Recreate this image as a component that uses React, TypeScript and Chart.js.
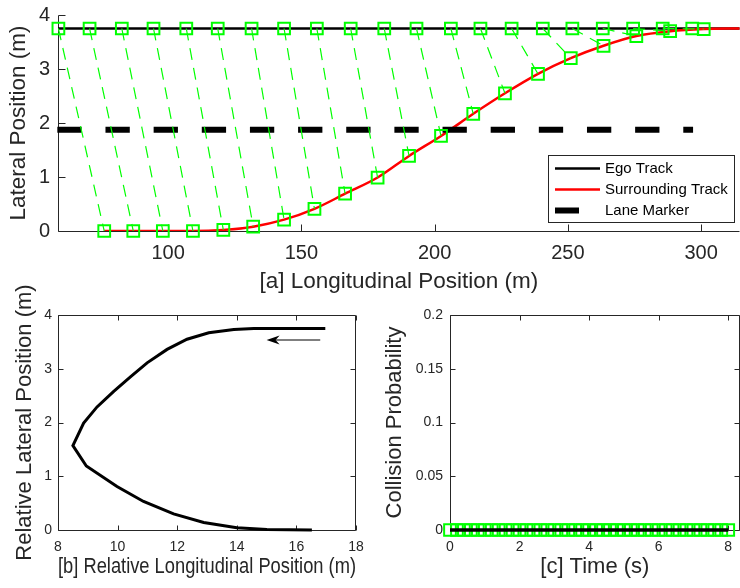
import React, { useEffect, useRef } from "react";
import { Chart, registerables } from "chart.js";

Chart.register(...registerables);

const FONT_FAMILY = '"Liberation Sans", Arial, Helvetica, sans-serif';
const AXIS_COLOR = "#262626";
const MARKER_GREEN = "#00ff00";
const TRACK_RED = "#ff0000";

// ---- [a] vehicle positions on the road ----
const egoLateral = 3.75;
const laneMarkerLateral = 1.875;
const egoLongitudinal = [
  58.8, 70.5, 82.6, 94.5, 106.8, 118.6, 131.3, 143.5, 155.8, 168.5, 181.1,
  193.2, 206.1, 217.2, 228.9, 240.6, 251.7, 263.1, 274.5, 285.6, 296.7,
];
const surroundingLongitudinal = [
  76.0, 86.9, 98.0, 109.3, 120.7, 131.9, 143.5, 154.9, 166.4, 178.6, 190.4,
  202.4, 214.5, 226.4, 238.8, 251.1, 263.4, 275.7, 288.4, 301.0,
];
const surroundingLateral = [
  0, 0, 0, 0, 0.02, 0.08, 0.21, 0.41, 0.69, 0.99, 1.39, 1.76, 2.17, 2.55, 2.91,
  3.2, 3.43, 3.61, 3.7, 3.74,
];
const surroundingTrackEnd = [314.5, 3.75];
const trackRange = [58.65, 314.5];
const laneMarkerRange = [58.4, 297];
const longitudinalTicks = [100, 150, 200, 250, 300];
const lateralTicks = [0, 1, 2, 3, 4];
const trackLegend = ["Ego Track", "Surrounding Track", "Lane Marker"];

// ---- [b] surrounding vehicle relative to the ego vehicle ----
const relativeLongitudinal = [
  16.97, 14.57, 13.9, 13.06, 12.33, 11.66, 10.99, 10.43, 9.87, 9.31, 8.86, 8.5,
  8.95, 9.98, 10.87, 11.88, 12.89, 14.0, 15.01, 16.52,
];
const relativeLateral = [
  3.75, 3.75, 3.73, 3.67, 3.55, 3.36, 3.11, 2.85, 2.58, 2.29, 1.99, 1.57, 1.19,
  0.81, 0.53, 0.3, 0.14, 0.04, 0.01, 0,
];
const arrowTail = [16.8, 3.535];
const arrowTip = [15.0, 3.535];
const relLongTicks = [8, 10, 12, 14, 16, 18];
const relLatTicks = [0, 1, 2, 3, 4];

// ---- [c] collision probability over the horizon ----
const timeSteps = [
  0, 0.2, 0.4, 0.6, 0.8, 1.0, 1.2, 1.4, 1.6, 1.8, 2.0, 2.2, 2.4, 2.6, 2.8, 3.0,
  3.2, 3.4, 3.6, 3.8, 4.0, 4.2, 4.4, 4.6, 4.8, 5.0, 5.2, 5.4, 5.6, 5.8, 6.0, 6.2,
  6.4, 6.6, 6.8, 7.0, 7.2, 7.4, 7.6, 7.8, 8.0,
];
const collisionProbability = [
  0, 0, 0, 0, 0, 0, 0, 0, 0, 0, 0, 0, 0, 0, 0, 0, 0, 0, 0, 0, 0, 0, 0, 0, 0, 0,
  0, 0, 0, 0, 0, 0, 0, 0, 0, 0, 0, 0, 0, 0, 0,
];
const timeTicks = [0, 2, 4, 6, 8];
const probabilityTicks = [0, 0.05, 0.1, 0.15, 0.2];

type Side = "left" | "right" | "top" | "bottom";

// Axis lines and inward-pointing tick marks.
const framePlugin = {
  id: "frame",
  beforeDatasetsDraw(chart: any, _args: unknown, opts: { sides: Side[]; tickLength: number }) {
    const { ctx, chartArea } = chart;
    const xs = chart.scales.x;
    const ys = chart.scales.y;
    const l = Math.round(chartArea.left) + 0.5;
    const r = Math.round(chartArea.right) - 0.5;
    const t = Math.round(chartArea.top) + 0.5;
    const b = Math.round(chartArea.bottom) + 0.5;
    const tl = opts.tickLength;
    const has = (s: Side) => opts.sides.includes(s);
    ctx.save();
    ctx.strokeStyle = AXIS_COLOR;
    ctx.lineWidth = 1;
    ctx.beginPath();
    if (has("left")) { ctx.moveTo(l, t); ctx.lineTo(l, b); }
    if (has("right")) { ctx.moveTo(r, t); ctx.lineTo(r, b); }
    if (has("top")) { ctx.moveTo(l, t); ctx.lineTo(r, t); }
    if (has("bottom")) { ctx.moveTo(l, b); ctx.lineTo(r, b); }
    for (const tk of xs.ticks) {
      const px = Math.round(xs.getPixelForValue(tk.value)) + 0.5;
      if (has("bottom")) { ctx.moveTo(px, b); ctx.lineTo(px, b - tl); }
      if (has("top")) { ctx.moveTo(px, t); ctx.lineTo(px, t + tl); }
    }
    for (const tk of ys.ticks) {
      const py = Math.round(ys.getPixelForValue(tk.value)) + 0.5;
      if (has("left")) { ctx.moveTo(l, py); ctx.lineTo(l + tl, py); }
      if (has("right")) { ctx.moveTo(r, py); ctx.lineTo(r - tl, py); }
    }
    ctx.stroke();
    ctx.restore();
  },
};

// Boxed legend in the lower right corner of plot [a].
const trackLegendPlugin = {
  id: "trackLegend",
  afterDatasetsDraw(chart: any) {
    const { ctx } = chart;
    const box = { x: 548.5, y: 155.5, w: 186, h: 67 };
    ctx.save();
    ctx.fillStyle = "#ffffff";
    ctx.fillRect(box.x, box.y, box.w, box.h);
    ctx.strokeStyle = AXIS_COLOR;
    ctx.lineWidth = 1;
    ctx.strokeRect(box.x, box.y, box.w, box.h);
    const rows = [168.5, 189.5, 210.5];
    const styles = [
      { color: "#000000", width: 2.5, len: 45 },
      { color: TRACK_RED, width: 2.5, len: 45 },
      { color: "#000000", width: 6, len: 24 },
    ];
    rows.forEach((y, i) => {
      ctx.beginPath();
      ctx.strokeStyle = styles[i].color;
      ctx.lineWidth = styles[i].width;
      ctx.moveTo(555, y);
      ctx.lineTo(555 + styles[i].len, y);
      ctx.stroke();
      ctx.fillStyle = "#000000";
      ctx.font = `15px ${FONT_FAMILY}`;
      ctx.textBaseline = "middle";
      ctx.textAlign = "left";
      ctx.fillText(trackLegend[i], 605, y);
    });
    ctx.restore();
  },
};

// Direction-of-travel arrow in plot [b].
const arrowPlugin = {
  id: "travelArrow",
  afterDatasetsDraw(chart: any) {
    const { ctx } = chart;
    const xs = chart.scales.x;
    const ys = chart.scales.y;
    const x1 = xs.getPixelForValue(arrowTail[0]);
    const y1 = ys.getPixelForValue(arrowTail[1]);
    const x2 = xs.getPixelForValue(arrowTip[0]);
    const y2 = ys.getPixelForValue(arrowTip[1]);
    const ang = Math.atan2(y2 - y1, x2 - x1);
    const headLen = 13;
    const headHalf = 4.5;
    const notch = 9;
    const ux = Math.cos(ang);
    const uy = Math.sin(ang);
    ctx.save();
    ctx.strokeStyle = "#000000";
    ctx.fillStyle = "#000000";
    ctx.lineWidth = 1.2;
    ctx.beginPath();
    ctx.moveTo(x1, y1);
    ctx.lineTo(x2 - ux * notch, y2 - uy * notch);
    ctx.stroke();
    ctx.beginPath();
    ctx.moveTo(x2, y2);
    ctx.lineTo(x2 - ux * headLen - uy * headHalf, y2 - uy * headLen + ux * headHalf);
    ctx.lineTo(x2 - ux * notch, y2 - uy * notch);
    ctx.lineTo(x2 - ux * headLen + uy * headHalf, y2 - uy * headLen - ux * headHalf);
    ctx.closePath();
    ctx.fill();
    ctx.restore();
  },
};

type AxisSpec = {
  min: number;
  max: number;
  ticks: number[];
  fontSize: number;
  padding: number;
  title: string;
  titleSize: number;
  titlePadding: { top?: number; bottom?: number };
  size: number;
  horizontal: boolean;
};

function linearAxis(spec: AxisSpec) {
  return {
    type: "linear",
    min: spec.min,
    max: spec.max,
    grid: { display: false, drawTicks: false },
    border: { display: false },
    afterBuildTicks: (s: any) => {
      s.ticks = spec.ticks.map((v) => ({ value: v }));
    },
    afterFit: (s: any) => {
      if (spec.horizontal) s.height = spec.size;
      else s.width = spec.size;
      // keep the plot box exactly where the layout padding puts it
      s.paddingTop = 0;
      s.paddingBottom = 0;
      s.paddingLeft = 0;
      s.paddingRight = 0;
    },
    ticks: {
      font: { family: FONT_FAMILY, size: spec.fontSize },
      color: AXIS_COLOR,
      padding: spec.padding,
      maxRotation: 0,
      autoSkip: false,
      callback: (v: number) => String(v),
    },
    title: {
      display: true,
      text: spec.title,
      color: AXIS_COLOR,
      font: { family: FONT_FAMILY, size: spec.titleSize },
      padding: spec.titlePadding,
    },
  };
}

const baseOptions = {
  responsive: false,
  animation: false,
  devicePixelRatio: 1,
  events: [],
};

const squareMarkers = {
  showLine: false,
  pointStyle: "rect",
  pointRadius: 8.3,
  pointBorderWidth: 2,
  pointBorderColor: MARKER_GREEN,
  pointBackgroundColor: "rgba(0,0,0,0)",
  clip: false,
};

function trackChartConfig(): any {
  const connectors = surroundingLongitudinal.flatMap((sx, i) => [
    { x: egoLongitudinal[i], y: egoLateral },
    { x: sx, y: surroundingLateral[i] },
    { x: sx, y: null },
  ]);
  const surroundingTrack = surroundingLongitudinal
    .map((x, i) => ({ x, y: surroundingLateral[i] }))
    .concat([{ x: surroundingTrackEnd[0], y: surroundingTrackEnd[1] }]);
  return {
    type: "scatter",
    data: {
      datasets: [
        { ...squareMarkers, order: 1, data: egoLongitudinal.map((x) => ({ x, y: egoLateral })) },
        {
          ...squareMarkers,
          order: 2,
          data: surroundingLongitudinal.map((x, i) => ({ x, y: surroundingLateral[i] })),
        },
        {
          order: 3,
          data: connectors,
          showLine: true,
          spanGaps: false,
          borderColor: MARKER_GREEN,
          borderWidth: 1.2,
          borderDash: [12, 8],
          pointRadius: 0,
          segment: {},
        },
        {
          order: 4,
          data: laneMarkerRange.map((x) => ({ x, y: laneMarkerLateral })),
          showLine: true,
          borderColor: "#000000",
          borderWidth: 6,
          borderDash: [24.3, 23.85],
          pointRadius: 0,
          clip: false,
        },
        {
          order: 5,
          data: surroundingTrack,
          showLine: true,
          borderColor: TRACK_RED,
          borderWidth: 2.5,
          cubicInterpolationMode: "monotone",
          pointRadius: 0,
        },
        {
          order: 6,
          data: trackRange.map((x) => ({ x, y: egoLateral })),
          showLine: true,
          borderColor: "#000000",
          borderWidth: 2.5,
          pointRadius: 0,
        },
      ],
    },
    options: {
      ...baseOptions,
      layout: { padding: { left: 0, right: 0, top: 15, bottom: 0 } },
      plugins: {
        legend: { display: false },
        tooltip: { enabled: false },
        frame: { sides: ["left", "bottom"], tickLength: 7 },
      },
      scales: {
        x: linearAxis({
          min: trackRange[0],
          max: trackRange[1],
          ticks: longitudinalTicks,
          fontSize: 20,
          padding: 10.5,
          title: "[a] Longitudinal Position (m)",
          titleSize: 22.5,
          titlePadding: { top: 0, bottom: 2.5 },
          size: 67,
          horizontal: true,
        }),
        y: linearAxis({
          min: 0,
          max: 4,
          ticks: lateralTicks,
          fontSize: 20,
          padding: 8,
          title: "Lateral Position (m)",
          titleSize: 22.5,
          titlePadding: { top: 5.5, bottom: 0 },
          size: 58,
          horizontal: false,
        }),
      },
    },
    plugins: [framePlugin, trackLegendPlugin],
  };
}

function relativeChartConfig(): any {
  return {
    type: "scatter",
    data: {
      datasets: [
        {
          data: relativeLongitudinal.map((x, i) => ({ x, y: relativeLateral[i] })),
          showLine: true,
          borderColor: "#000000",
          borderWidth: 3,
          pointRadius: 0,
          clip: false,
        },
      ],
    },
    options: {
      ...baseOptions,
      layout: { padding: { left: 0, right: 44, top: 45, bottom: 0 } },
      plugins: {
        legend: { display: false },
        tooltip: { enabled: false },
        frame: { sides: ["left", "right", "top", "bottom"], tickLength: 5 },
      },
      scales: {
        x: linearAxis({
          min: 8,
          max: 18,
          ticks: relLongTicks,
          fontSize: 14,
          padding: 8.6,
          title: "[b] Relative Longitudinal Position (m)",
          titleSize: 22,
          titlePadding: { top: 0, bottom: 8 },
          size: 58,
          horizontal: true,
        }),
        y: linearAxis({
          min: 0,
          max: 4,
          ticks: relLatTicks,
          fontSize: 14,
          padding: 6,
          title: "Relative Lateral Position (m)",
          titleSize: 22,
          titlePadding: { top: 11.8, bottom: 0 },
          size: 58,
          horizontal: false,
        }),
      },
    },
    plugins: [framePlugin, arrowPlugin],
  };
}

function probabilityChartConfig(): any {
  return {
    type: "scatter",
    data: {
      datasets: [
        {
          order: 1,
          data: timeSteps.map((x, i) => ({ x, y: collisionProbability[i] })),
          showLine: true,
          borderColor: "#000000",
          borderWidth: 3.5,
          pointRadius: 0,
          clip: false,
        },
        {
          ...squareMarkers,
          order: 2,
          data: timeSteps.map((x, i) => ({ x, y: collisionProbability[i] })),
        },
      ],
    },
    options: {
      ...baseOptions,
      layout: { padding: { left: 0, right: 5, top: 45, bottom: 0 } },
      plugins: {
        legend: { display: false },
        tooltip: { enabled: false },
        frame: { sides: ["left", "right", "top", "bottom"], tickLength: 5 },
      },
      scales: {
        x: linearAxis({
          min: 0,
          max: 8.33,
          ticks: timeTicks,
          fontSize: 14,
          padding: 8.6,
          title: "[c] Time (s)",
          titleSize: 22,
          titlePadding: { top: 0, bottom: 8 },
          size: 58,
          horizontal: true,
        }),
        y: linearAxis({
          min: 0,
          max: 0.2,
          ticks: probabilityTicks,
          fontSize: 14,
          padding: 7,
          title: "Collision Probability",
          titleSize: 22,
          titlePadding: { top: 11.8, bottom: 0 },
          size: 80,
          horizontal: false,
        }),
      },
    },
    plugins: [framePlugin],
  };
}

function ChartCanvas(props: { left: number; top: number; width: number; height: number; config: () => any }) {
  const ref = useRef<HTMLCanvasElement>(null);
  useEffect(() => {
    const chart = new Chart(ref.current as HTMLCanvasElement, props.config());
    return () => chart.destroy();
  }, []);
  return (
    <canvas
      ref={ref}
      width={props.width}
      height={props.height}
      style={{
        position: "absolute",
        left: props.left,
        top: props.top,
        width: props.width,
        height: props.height,
      }}
    />
  );
}

export default function App() {
  return (
    <div
      style={{
        position: "fixed",
        left: 0,
        top: 0,
        width: 740,
        height: 588,
        overflow: "hidden",
        background: "#ffffff",
      }}
    >
      <ChartCanvas left={0} top={0} width={750} height={298} config={trackChartConfig} />
      <ChartCanvas left={0} top={270} width={400} height={318} config={relativeChartConfig} />
      <ChartCanvas left={370} top={270} width={380} height={318} config={probabilityChartConfig} />
    </div>
  );
}
